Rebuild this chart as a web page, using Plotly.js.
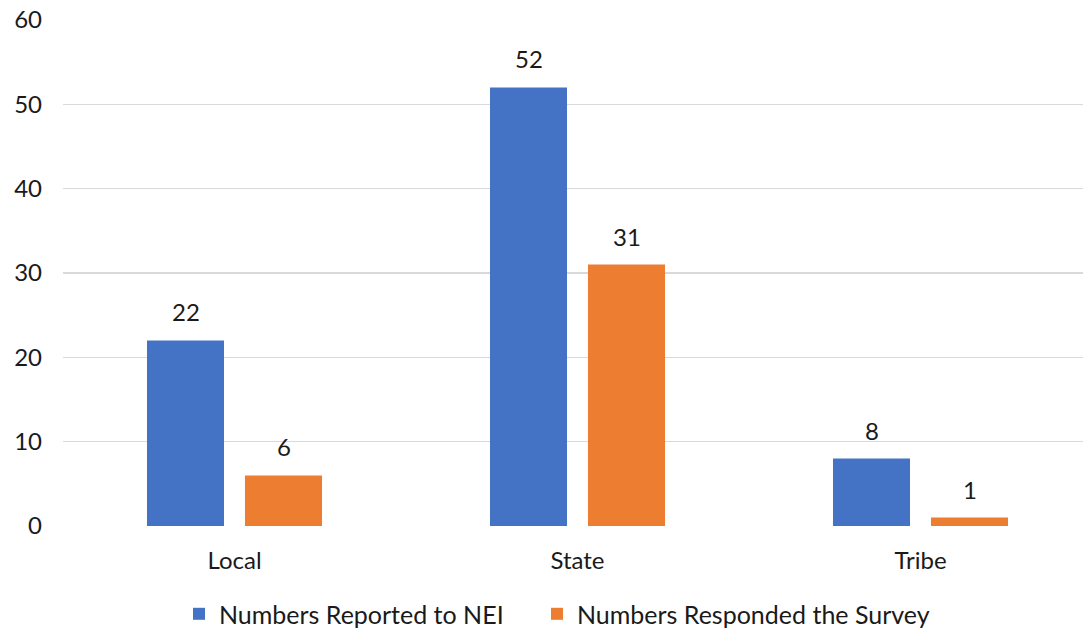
<!DOCTYPE html>
<html>
<head>
<meta charset="utf-8">
<script src="https://cdn.plot.ly/plotly-3.0.1.min.js"></script>
<style>
  html, body { margin: 0; padding: 0; background: #ffffff; }
  #chart { width: 1083px; height: 630px; }
</style>
</head>
<body>
<div id="chart"></div>
<script>
// Agency counts by type
const categories = ['Local', 'State', 'Tribe'];
const reportedToNEI = [22, 52, 8];
const respondedSurvey = [6, 31, 1];
const seriesNames = ['Numbers Reported to NEI', 'Numbers Responded the Survey'];
const yTicks = [0, 10, 20, 30, 40, 50, 60];

const BLUE = '#4472C4';
const ORANGE = '#ED7D31';
const FONT = 'Lato, "Open Sans", sans-serif';
const TEXT = '#1a1a1a';

// Bar grouping geometry (shared by bars and their value labels)
const BARGAP = 0.4286;
const BARGROUPGAP = 0.214;
const slot = (1 - BARGAP) / 2;

const traces = [
  {
    type: 'bar', name: seriesNames[0],
    x: categories, y: reportedToNEI,
    marker: { color: BLUE },
    legend: 'legend'
  },
  {
    type: 'bar', name: seriesNames[1],
    x: categories, y: respondedSurvey,
    marker: { color: ORANGE },
    legend: 'legend2'
  }
];

// Value labels above each bar
const annotations = [];
[reportedToNEI, respondedSurvey].forEach((vals, s) => {
  const off = (s === 0 ? -1 : 1) * slot / 2;
  vals.forEach((v, i) => {
    annotations.push({
      x: i + off, y: v, xref: 'x', yref: 'y',
      text: String(v), showarrow: false,
      yanchor: 'bottom', yshift: 12,
      font: { family: FONT, size: 24, color: TEXT }
    });
  });
});

const legendBase = {
  orientation: 'h', xref: 'paper', yref: 'paper',
  xanchor: 'left', y: -0.174, yanchor: 'middle',
  font: { family: FONT, size: 25, color: TEXT },
  itemwidth: 30
};

const layout = {
  width: 1083, height: 630,
  margin: { l: 63, r: 0, t: 20, b: 104, autoexpand: false },
  paper_bgcolor: '#ffffff', plot_bgcolor: '#ffffff',
  barmode: 'group',
  bargap: BARGAP, bargroupgap: BARGROUPGAP,
  font: { family: FONT, size: 24, color: TEXT },
  xaxis: {
    type: 'category',
    range: [-0.5, -0.5 + 1020 / 343],
    showgrid: false, zeroline: false, showline: false,
    ticks: '', ticklabelstandoff: 18,
    tickfont: { family: FONT, size: 24, color: TEXT }
  },
  yaxis: {
    range: [0, 60], tickvals: yTicks,
    showgrid: true, gridcolor: '#D9D9D9', gridwidth: 1.3,
    zeroline: false, showline: false,
    ticks: '', ticklabelstandoff: 20,
    tickfont: { family: FONT, size: 24, color: TEXT }
  },
  showlegend: true,
  legend: Object.assign({}, legendBase, { x: 0.1137 }),
  legend2: Object.assign({}, legendBase, { x: 0.4647 }),
  annotations: annotations
};

Plotly.newPlot('chart', traces, layout, { displayModeBar: false, staticPlot: true });
</script>
</body>
</html>
